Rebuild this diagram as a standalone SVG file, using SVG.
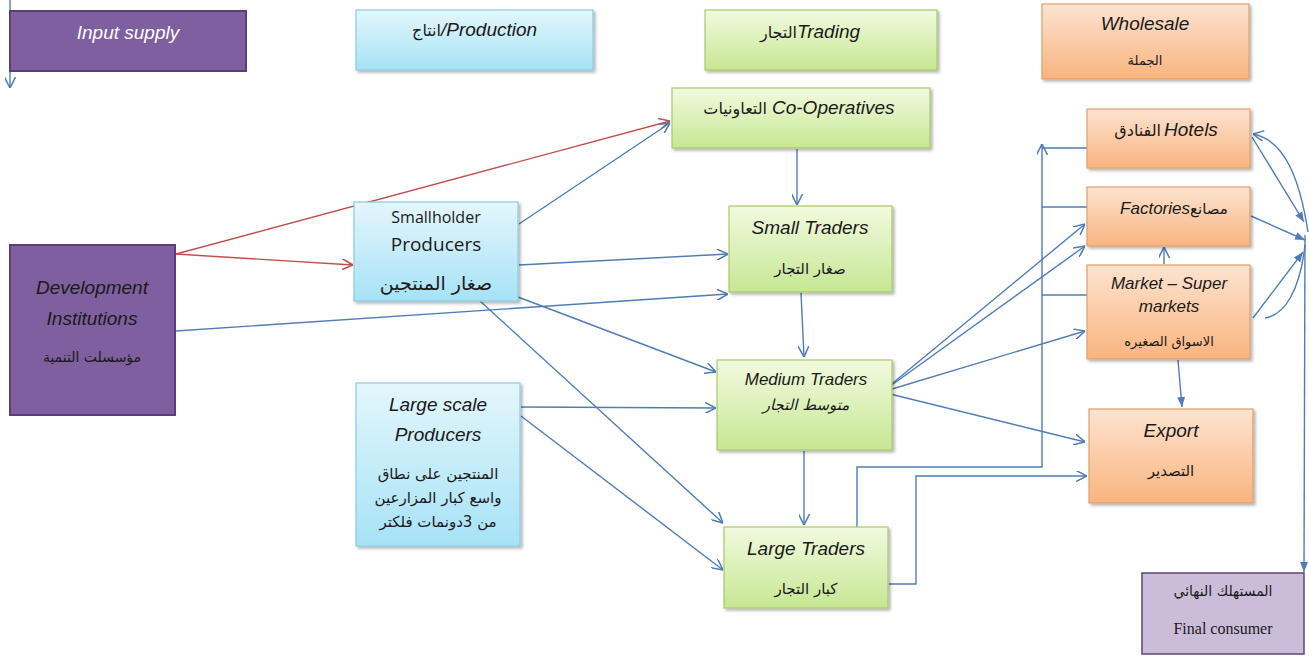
<svg xmlns="http://www.w3.org/2000/svg" width="1309" height="656" viewBox="0 0 1309 656">
<style>
.t{font-family:"Liberation Sans","Open Sans",sans-serif;font-style:italic;font-size:19px;fill:#1a1a1a;text-anchor:middle}
.n{font-family:"Open Sans","Liberation Sans",sans-serif;font-size:16px;fill:#1a1a1a;text-anchor:middle}
.a{font-family:"DejaVu Sans","Noto Sans",sans-serif;font-size:15px;fill:#1a1a1a;text-anchor:middle}
.s{text-anchor:start}
.e{text-anchor:end}
.c{fill:none;stroke:#4f7cb8;stroke-width:1.4}
.r{fill:none;stroke:#c0504d;stroke-width:1.4}
.blue{stroke:#8ccbe0;stroke-width:1.2}
.green{stroke:#a9c96b;stroke-width:1.2}
.orange{stroke:#e0a06a;stroke-width:1.2}
.purple{fill:#7f5f9f;stroke:#5a3e7a;stroke-width:2}
</style>
<defs>
<linearGradient id="gb" x1="0" y1="0" x2="0" y2="1"><stop offset="0" stop-color="#e4f6fc"/><stop offset="1" stop-color="#a6e2f6"/></linearGradient>
<linearGradient id="gg" x1="0" y1="0" x2="0" y2="1"><stop offset="0" stop-color="#f2fadf"/><stop offset="1" stop-color="#c6e793"/></linearGradient>
<linearGradient id="go" x1="0" y1="0" x2="0" y2="1"><stop offset="0" stop-color="#fde3d0"/><stop offset="1" stop-color="#f9b47f"/></linearGradient>
<filter id="sh" x="-10%" y="-10%" width="130%" height="130%"><feDropShadow dx="2" dy="2" stdDeviation="1.5" flood-color="#000" flood-opacity="0.3"/></filter>
<marker id="ob" viewBox="0 0 10 10" refX="10" refY="5" markerWidth="11" markerHeight="11" markerUnits="userSpaceOnUse" orient="auto"><path d="M0,0 L10,5 L0,10" fill="none" stroke="#4f7cb8" stroke-width="1.4"/></marker>
<marker id="or" viewBox="0 0 10 10" refX="10" refY="5" markerWidth="11" markerHeight="11" markerUnits="userSpaceOnUse" orient="auto"><path d="M0,0 L10,5 L0,10" fill="none" stroke="#c0504d" stroke-width="1.4"/></marker>
<marker id="fb" viewBox="0 0 10 10" refX="10" refY="5" markerWidth="10" markerHeight="10" markerUnits="userSpaceOnUse" orient="auto"><path d="M0,1 L10,5 L0,9 Z" fill="#4f7cb8"/></marker>
</defs>
<rect width="1309" height="656" fill="#fff"/>

<g id="connectors">
<path class="c" d="M10,0 L10,88" marker-end="url(#ob)"/>
<path class="r" d="M176,254 L670,121" marker-end="url(#or)"/>
<path class="r" d="M176,254 L353,265" marker-end="url(#or)"/>
<path class="c" d="M519,224 L670,123" marker-end="url(#ob)"/>
<path class="c" d="M519,265 L728,254" marker-end="url(#ob)"/>
<path class="c" d="M176,331 L728,294" marker-end="url(#ob)"/>
<path class="c" d="M518,297 L716,372" marker-end="url(#ob)"/>
<path class="c" d="M480,301 L723,523" marker-end="url(#ob)"/>
<path class="c" d="M521,407 L716,408" marker-end="url(#ob)"/>
<path class="c" d="M521,416 L723,570" marker-end="url(#ob)"/>
<path class="c" d="M797,149 L797,205" marker-end="url(#ob)"/>
<path class="c" d="M801,293 L804,357" marker-end="url(#ob)"/>
<path class="c" d="M804,451 L804,525" marker-end="url(#ob)"/>
<path class="c" d="M882,392 L1085,224" marker-end="url(#ob)"/>
<path class="c" d="M882,392 L1085,246" marker-end="url(#ob)"/>
<path class="c" d="M882,392 L1085,331" marker-end="url(#ob)"/>
<path class="c" d="M882,392 L1085,442" marker-end="url(#ob)"/>
<path class="c" d="M857,527 V467 H1042 V144" marker-end="url(#ob)"/>
<path class="c" d="M1087,148 H1042 M1087,207 H1042 M1087,295 H1042"/>
<path class="c" d="M889,584 H916 V476 H1087" marker-end="url(#ob)"/>
<path class="c" d="M1164,264 L1164,247" marker-end="url(#ob)"/>
<path class="c" d="M1178,360 L1182,407" marker-end="url(#fb)"/>
<path class="c" d="M1252,137 L1304,222" marker-end="url(#fb)"/>
<path class="c" d="M1251,216 L1305,240" marker-end="url(#fb)"/>
<path class="c" d="M1253,318 L1303,252" marker-end="url(#fb)"/>
<path class="c" d="M1308,232 C1300,180 1285,140 1253,134" marker-end="url(#ob)"/>
<path class="c" d="M1265,318 C1285,315 1300,290 1305,245"/>
<path class="c" d="M1305,235 L1304,572" marker-end="url(#fb)"/>
</g>

<g id="input-supply">
<rect class="purple" x="10" y="11" width="236" height="60"/>
<text class="t" x="128" y="39" style="fill:#fff">Input supply</text>
</g>
<g id="production">
<rect x="356" y="10" width="237" height="60" fill="url(#gb)" class="blue" filter="url(#sh)"/>
<text class="a e" x="441" y="36" style="font-size:16px">انتاج</text>
<text class="t s" x="441" y="36">/Production</text>
</g>
<g id="trading">
<rect x="705" y="10" width="232" height="60" fill="url(#gg)" class="green" filter="url(#sh)"/>
<text class="a e" x="797" y="38" style="font-size:16px">التجار</text>
<text class="t s" x="797" y="38">Trading</text>
</g>
<g id="wholesale">
<rect x="1042" y="4" width="207" height="75" fill="url(#go)" class="orange" filter="url(#sh)"/>
<text class="t" x="1145" y="30">Wholesale</text>
<text class="a" x="1145" y="65" style="font-size:13px">الجملة</text>
</g>
<g id="co-operatives">
<rect x="672" y="88" width="258" height="60" fill="url(#gg)" class="green" filter="url(#sh)"/>
<text class="a e" x="767" y="114" style="font-size:16px">التعاونيات</text>
<text class="t s" x="772" y="114">Co-Operatives</text>
</g>
<g id="hotels">
<rect x="1087" y="109" width="163" height="59" fill="url(#go)" class="orange" filter="url(#sh)"/>
<text class="a e" x="1161" y="136" style="font-size:16px">الفنادق</text>
<text class="t s" x="1164" y="136">Hotels</text>
</g>
<g id="factories">
<rect x="1087" y="187" width="163" height="59" fill="url(#go)" class="orange" filter="url(#sh)"/>
<text class="t e" x="1190" y="214" style="font-size:17px">Factories</text>
<text class="a s" x="1190" y="214">مصانع</text>
</g>
<g id="markets">
<rect x="1087" y="265" width="163" height="94" fill="url(#go)" class="orange" filter="url(#sh)"/>
<text class="t" x="1169" y="289" style="font-size:17px">Market – Super</text>
<text class="t" x="1169" y="312" style="font-size:17px">markets</text>
<text class="a" x="1169" y="346" style="font-size:13px">الاسواق الصغيره</text>
</g>
<g id="export">
<rect x="1089" y="409" width="164" height="94" fill="url(#go)" class="orange" filter="url(#sh)"/>
<text class="t" x="1171" y="437">Export</text>
<text class="a" x="1171" y="476">التصدير</text>
</g>
<g id="final-consumer">
<rect x="1142" y="573" width="162" height="81" fill="#cbbdd9" stroke="#5a4870" stroke-width="1.5"/>
<text class="a" x="1223" y="596" style="font-size:14px">المستهلك النهائي</text>
<text x="1223" y="634" style="font-family:'Liberation Serif',serif;font-size:16px;fill:#1a1a1a;text-anchor:middle">Final consumer</text>
</g>
<g id="development-institutions">
<rect class="purple" x="10" y="245" width="165" height="170"/>
<text class="t" x="92" y="294">Development</text>
<text class="t" x="92" y="325">Institutions</text>
<text class="a" x="92" y="362" style="font-size:14px">مؤسسلت التنمية</text>
</g>
<g id="smallholder-producers">
<rect x="354" y="202" width="164" height="99" fill="url(#gb)" class="blue" filter="url(#sh)"/>
<text class="n" x="436" y="223">Smallholder</text>
<text class="n" x="436" y="251" style="font-size:19px">Producers</text>
<text class="a" x="436" y="290" style="font-size:19px">صغار المنتجين</text>
</g>
<g id="large-scale-producers">
<rect x="356" y="383" width="164" height="163" fill="url(#gb)" class="blue" filter="url(#sh)"/>
<text class="t" x="438" y="411">Large scale</text>
<text class="t" x="438" y="441">Producers</text>
<text class="a" x="438" y="479">المنتجين على نطاق</text>
<text class="a" x="438" y="503">واسع كبار المزارعين</text>
<text class="a" x="438" y="527">من 3دونمات فلكتر</text>
</g>
<g id="small-traders">
<rect x="729" y="206" width="163" height="86" fill="url(#gg)" class="green" filter="url(#sh)"/>
<text class="t" x="810" y="234">Small Traders</text>
<text class="a" x="810" y="274">صغار التجار</text>
</g>
<g id="medium-traders">
<rect x="717" y="360" width="175" height="90" fill="url(#gg)" class="green" filter="url(#sh)"/>
<text class="t" x="806" y="385" style="font-size:17px">Medium Traders</text>
<text class="a" x="806" y="410" style="font-style:italic">متوسط التجار</text>
</g>
<g id="large-traders">
<rect x="724" y="527" width="164" height="81" fill="url(#gg)" class="green" filter="url(#sh)"/>
<text class="t" x="806" y="555">Large Traders</text>
<text class="a" x="806" y="594">كبار التجار</text>
</g>
</svg>
